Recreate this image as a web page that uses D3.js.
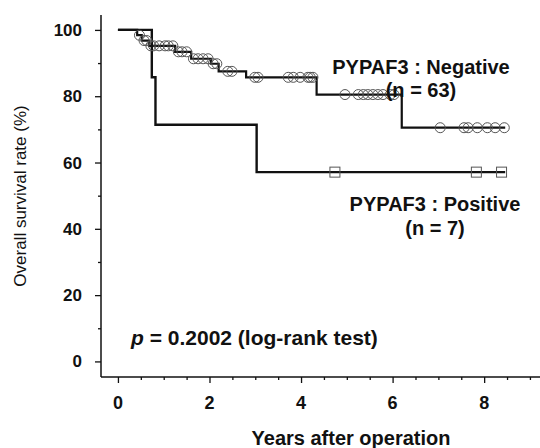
<!DOCTYPE html>
<html><head><meta charset="utf-8">
<script src="https://cdn.jsdelivr.net/npm/d3@7"></script>
<style>body{margin:0;background:#fff}svg{display:block}text{font-family:"Liberation Sans",Arial,sans-serif}</style>
</head><body>
<svg id="c" width="540" height="448"></svg>
<script>
// Negative group (n = 63): step times (years) and survival (%)
const negTimes = [0, 0.42, 0.52, 0.68, 1.25, 1.6, 2.03, 2.2, 2.8, 4.34, 6.2];
const negSurv  = [100, 98.4, 96.8, 95.2, 93.4, 91.3, 89.8, 87.5, 85.7, 80.5, 70.5];
const negEnd = 8.46;
const negCensor = [0.47, 0.57, 0.63, 0.72, 0.78, 0.9, 1.03, 1.1, 1.2, 1.32, 1.4, 1.5, 1.65, 1.75, 1.86, 1.97, 2.08, 2.16, 2.4, 2.49, 2.99, 3.06, 3.72, 3.83, 3.98, 4.15, 4.2, 4.26, 4.96, 5.25, 5.36, 5.46, 5.57, 5.68, 5.79, 5.95, 6.03, 7.04, 7.56, 7.65, 7.85, 8.07, 8.24, 8.44];
// Positive group (n = 7)
const posTimes = [0, 0.74, 0.82, 3.03];
const posSurv  = [100, 85.7, 71.4, 57.1];
const posEnd = 8.46;
const posCensor = [4.74, 7.83, 8.38];

const xTicks = [0, 2, 4, 6, 8];
const yTicks = [0, 20, 40, 60, 80, 100];
const labels = {
  neg: ["PYPAF3 : Negative", "(n = 63)"],
  pos: ["PYPAF3 : Positive", "(n = 7)"],
  xTitle: "Years after operation",
  yTitle: "Overall survival rate (%)"
};

const svg = d3.select("#c");
const x = d3.scaleLinear().domain([-0.37, 9.22]).range([101, 540]);
const y = d3.scaleLinear().domain([-4.7, 104.5]).range([377, 15]);

// axes
const xAxis = d3.axisBottom(x).tickValues(d3.range(0, 9.01, 0.5)).tickSize(0).tickFormat("");
const gx = svg.append("g").attr("transform", "translate(0,377)").call(xAxis);
gx.select(".domain").attr("stroke", "#111").attr("stroke-width", 1.5).attr("d", "M101,0H540");
gx.selectAll(".tick line").attr("stroke", "#111").attr("stroke-width", 1.3)
  .attr("y2", d => (Math.abs(d % 2) < 1e-6 ? 6 : 3));
svg.append("g").selectAll("text").data(xTicks).join("text")
  .attr("x", d => x(d)).attr("y", 409).attr("text-anchor", "middle")
  .attr("font-size", 18).attr("font-weight", "bold").attr("fill", "#111").text(d => d);

const yAxis = d3.axisLeft(y).tickValues(d3.range(0, 101, 10)).tickSize(0).tickFormat("");
const gy = svg.append("g").attr("transform", "translate(101,0)").call(yAxis);
gy.select(".domain").attr("stroke", "#111").attr("stroke-width", 1.5).attr("d", "M0,15V377");
gy.selectAll(".tick line").attr("stroke", "#111").attr("stroke-width", 1.3)
  .attr("x2", d => (d % 20 === 0 ? -6 : -3));
svg.append("g").selectAll("text").data(yTicks).join("text")
  .attr("x", 82).attr("y", d => y(d) + 6).attr("text-anchor", "end")
  .attr("font-size", 17).attr("font-weight", "bold").attr("fill", "#111").text(d => d);

svg.append("text").attr("x", 351).attr("y", 445).attr("text-anchor", "middle")
  .attr("font-size", 20).attr("font-weight", "bold").attr("fill", "#111").text(labels.xTitle);
svg.append("text").attr("transform", "translate(26,196) rotate(-90)").attr("text-anchor", "middle")
  .attr("font-size", 17).attr("fill", "#111").text(labels.yTitle);

// step curves
function stepPts(times, surv, end) {
  const pts = times.map((t, i) => [t, surv[i]]);
  pts.push([end, surv[surv.length - 1]]);
  return pts;
}
function survAt(times, surv, t) {
  let s = surv[0];
  for (let i = 0; i < times.length; i++) if (times[i] <= t) s = surv[i];
  return s;
}
const line = d3.line().x(d => x(d[0])).y(d => y(d[1])).curve(d3.curveStepAfter);

svg.append("path").datum(stepPts(posTimes, posSurv, posEnd)).attr("d", line)
  .attr("fill", "none").attr("stroke", "#111").attr("stroke-width", 2.4);
svg.append("path").datum(stepPts(negTimes, negSurv, negEnd)).attr("d", line)
  .attr("fill", "none").attr("stroke", "#111").attr("stroke-width", 2.2);

svg.append("g").selectAll("circle").data(negCensor).join("circle")
  .attr("cx", d => x(d)).attr("cy", d => y(survAt(negTimes, negSurv, d)))
  .attr("r", 5).attr("fill", "none").attr("stroke", "#555").attr("stroke-width", 1);
svg.append("g").selectAll("rect").data(posCensor).join("rect")
  .attr("x", d => x(d) - 5).attr("y", d => y(survAt(posTimes, posSurv, d)) - 5)
  .attr("width", 10).attr("height", 10).attr("fill", "none").attr("stroke", "#555").attr("stroke-width", 1);

// annotations
function label(lines, cx, y0, y1) {
  svg.append("text").attr("x", cx).attr("y", y0).attr("text-anchor", "middle")
    .attr("font-size", 20).attr("font-weight", "bold").attr("fill", "#111").text(lines[0]);
  svg.append("text").attr("x", cx).attr("y", y1).attr("text-anchor", "middle")
    .attr("font-size", 20).attr("font-weight", "bold").attr("fill", "#111").text(lines[1]);
}
label(labels.neg, 421, 74, 97);
label(labels.pos, 435, 211, 235);

const pt = svg.append("text").attr("x", 131).attr("y", 345)
  .attr("font-size", 21).attr("font-weight", "bold").attr("fill", "#111");
pt.append("tspan").attr("font-style", "italic").text("p");
pt.append("tspan").text(" = 0.2002 (log-rank test)");
</script>
</body></html>
